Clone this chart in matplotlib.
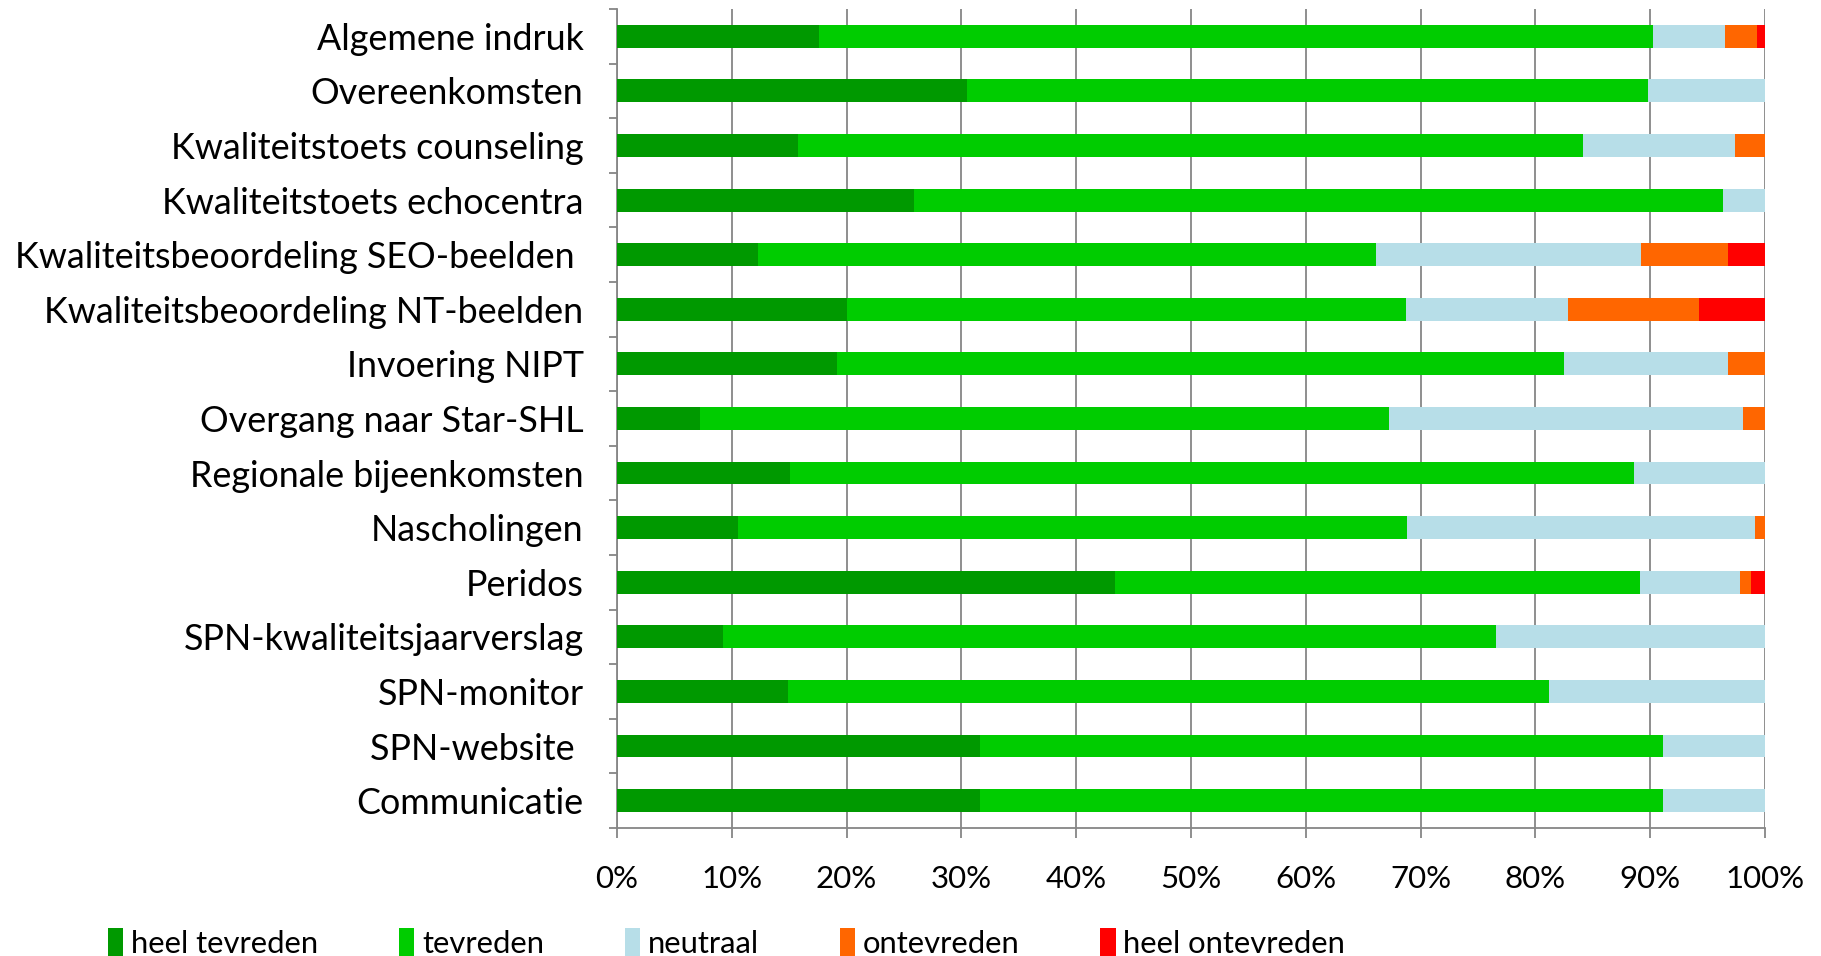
import matplotlib

matplotlib.use("Agg")

import matplotlib.pyplot as plt
import numpy as np

categories = [
    "Algemene indruk",
    "Overeenkomsten",
    "Kwaliteitstoets counseling",
    "Kwaliteitstoets echocentra",
    "Kwaliteitsbeoordeling SEO-beelden ",
    "Kwaliteitsbeoordeling NT-beelden",
    "Invoering NIPT",
    "Overgang naar Star-SHL",
    "Regionale bijeenkomsten",
    "Nascholingen",
    "Peridos",
    "SPN-kwaliteitsjaarverslag",
    "SPN-monitor",
    "SPN-website ",
    "Communicatie",
]

heel_tevreden = [17.6, 30.5, 15.8, 25.9, 12.3, 20.0, 19.2, 7.2, 15.1, 10.5, 43.4, 9.2, 14.9, 31.6, 31.6]
tevreden = [72.6, 59.3, 68.3, 70.4, 53.8, 48.7, 63.3, 60.0, 73.5, 58.3, 45.7, 67.4, 66.3, 59.5, 59.5]
neutraal = [6.3, 10.2, 13.3, 3.7, 23.1, 14.1, 14.3, 30.9, 11.4, 30.3, 8.7, 23.4, 18.8, 8.9, 8.9]
ontevreden = [2.8, 0.0, 2.6, 0.0, 7.6, 11.4, 3.2, 1.9, 0.0, 0.9, 1.0, 0.0, 0.0, 0.0, 0.0]
heel_ontevreden = [0.7, 0.0, 0.0, 0.0, 3.2, 5.8, 0.0, 0.0, 0.0, 0.0, 1.2, 0.0, 0.0, 0.0, 0.0]

series = [
    ("heel tevreden", heel_tevreden, "#009900"),
    ("tevreden", tevreden, "#00CC00"),
    ("neutraal", neutraal, "#B7DEE8"),
    ("ontevreden", ontevreden, "#FF6600"),
    ("heel ontevreden", heel_ontevreden, "#FF0000"),
]

plt.rcParams["font.family"] = ["Lato", "DejaVu Sans"]

fig = plt.figure(figsize=(18.21, 9.56), dpi=100)
ax = fig.add_axes([0.3388, 0.134, 0.6305, 0.8566])

y = np.arange(len(categories))
left = np.zeros(len(categories))
for name, values, color in series:
    vals = np.array(values)
    ax.barh(y, vals, left=left, height=0.42, color=color, label=name, zorder=3)
    left += vals

ax.set_xlim(0, 100)
ax.set_ylim(len(categories) - 0.5, -0.5)
ax.set_xticks(np.arange(0, 101, 10))
ax.set_xticklabels([f"{v}%" for v in range(0, 101, 10)], fontsize=22.5)
ax.set_yticks(y)
ax.set_yticklabels(categories, fontsize=25.8)
ax.set_yticks(np.arange(-0.5, len(categories), 1), minor=True)

ax.grid(axis="x", color="#868686", linewidth=1.3, zorder=0)
for side in ["top", "right"]:
    ax.spines[side].set_visible(False)
for side in ["left", "bottom"]:
    ax.spines[side].set_color("#868686")
    ax.spines[side].set_linewidth(1.3)

ax.tick_params(axis="y", which="major", length=0, pad=24)
ax.tick_params(axis="y", which="minor", length=6, color="#868686", width=1.3)
ax.tick_params(axis="x", length=7, color="#868686", width=1.3, pad=20)

handles, labels = ax.get_legend_handles_labels()
fig.legend(
    handles,
    labels,
    loc="lower left",
    bbox_to_anchor=(0.044, -0.031),
    ncol=5,
    frameon=False,
    fontsize=22.3,
    handlelength=0.5,
    handleheight=1.0,
    handletextpad=0.25,
    columnspacing=2.6,
)

fig.savefig("out.png", dpi=100)
plt.close(fig)
